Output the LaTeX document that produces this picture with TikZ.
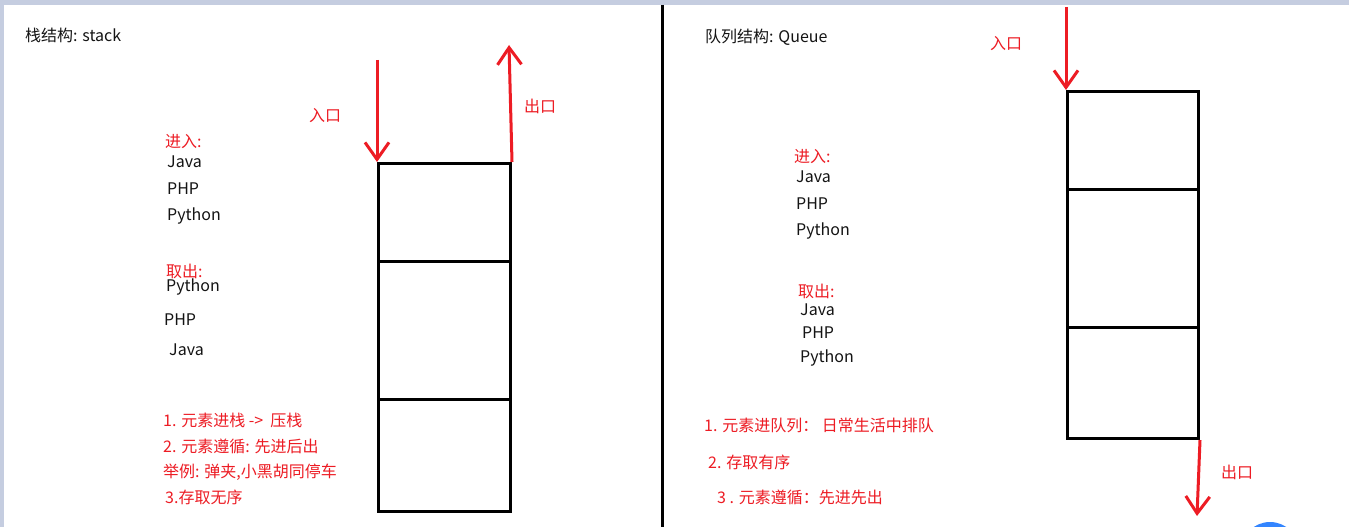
\documentclass[tikz,border=0pt]{standalone}
\usepackage{fontspec}
\setmainfont{Noto Sans CJK SC}
\usepackage{xcolor}
\definecolor{penred}{RGB}{237,28,36}
\definecolor{frameblue}{RGB}{197,205,224}
\definecolor{txtblack}{RGB}{20,20,20}
\usetikzlibrary{arrows.meta, positioning}

\begin{document}
\begin{tikzpicture}[x=1pt, y=-1pt,
  cell/.style={rectangle, draw=black, line width=3pt, minimum width=132pt,
               inner sep=0pt, anchor=north west},
  lbl/.style={anchor=west, inner sep=0pt, text=txtblack, font=\fontsize{16pt}{19pt}\selectfont},
  note/.style={lbl, text=penred},
  arr/.style={-{Straight Barb[length=17pt,width=24pt]}, line width=3pt, penred}
]
\useasboundingbox (0,0) rectangle (1349,527);
\fill[white] (0,0) rectangle (1349,527);
\fill[frameblue] (0,0) rectangle (1349,5);
\fill[frameblue] (0,0) rectangle (4,527);
\fill[blue!60!cyan!80] (1270,551) circle (29);
\draw[line width=3pt] (662,5) -- (662,527);

% stack
\node[lbl] (stitle) at (25,35) {栈结构: stack};
\node[cell, minimum height=98pt]  (s1) at (377,162) {};
\node[cell, minimum height=138pt] (s2) at (377,260) {};
\node[cell, minimum height=112pt] (s3) at (377,398) {};
\coordinate (sin)  at (377,60);
\coordinate (sout) at (509,45);
\draw[arr] (sin) -- (s1.north west);
\draw[arr] (s1.north east) -- (sout);
\node[note] (sinlbl)  at (309,116) {入口};
\node[note] (soutlbl) at (524,106) {出口};

\node[note] (spush) at (165,142) {进入:};
\node[lbl] (spa) at (167,162) {Java};
\node[lbl] (spb) at (167,189) {PHP};
\node[lbl] (spc) at (167,216) {Python};
\node[note] (spop) at (166,271) {取出:};
\node[lbl] (soa) at (166,287) {Python};
\node[lbl] (sob) at (164,320) {PHP};
\node[lbl] (soc) at (169,350) {Java};

\node[note] (sn1) at (163,420) {1. 元素进栈 ->\ \ 压栈};
\node[note] (sn2) at (163,446) {2. 元素遵循: 先进后出};
\node[note] (sn3) at (163,472) {举例: 弹夹,小黑胡同停车};
\node[note] (sn4) at (165,497) {3.存取无序};

% queue
\node[lbl] (qtitle) at (705,37) {队列结构: Queue};
\node[cell, minimum width=131pt, minimum height=98pt]  (q1) at (1066,90) {};
\node[cell, minimum width=131pt, minimum height=138pt] (q2) at (1066,188) {};
\node[cell, minimum width=131pt, minimum height=111pt] (q3) at (1066,326) {};
\coordinate (qin)  at (1066,7);
\coordinate (qout) at (1197,516);
\draw[arr] (qin) -- (q1.north west);
\draw[arr] (q3.south east) -- (qout);
\node[note] (qinlbl)  at (990,44) {入口};
\node[note] (qoutlbl) at (1221,472) {出口};

\node[note] (qpush) at (794,157) {进入:};
\node[lbl] (qpa) at (796,177) {Java};
\node[lbl] (qpb) at (796,204) {PHP};
\node[lbl] (qpc) at (796,231) {Python};
\node[note] (qpop) at (798,291) {取出:};
\node[lbl] (qoa) at (800,310) {Java};
\node[lbl] (qob) at (802,333) {PHP};
\node[lbl] (qoc) at (800,358) {Python};

\node[note] (qn1) at (704,425) {1. 元素进队列： 日常生活中排队};
\node[note] (qn2) at (708,462) {2. 存取有序};
\node[note] (qn3) at (717,497) {3 . 元素遵循：先进先出};
\end{tikzpicture}
\end{document}
